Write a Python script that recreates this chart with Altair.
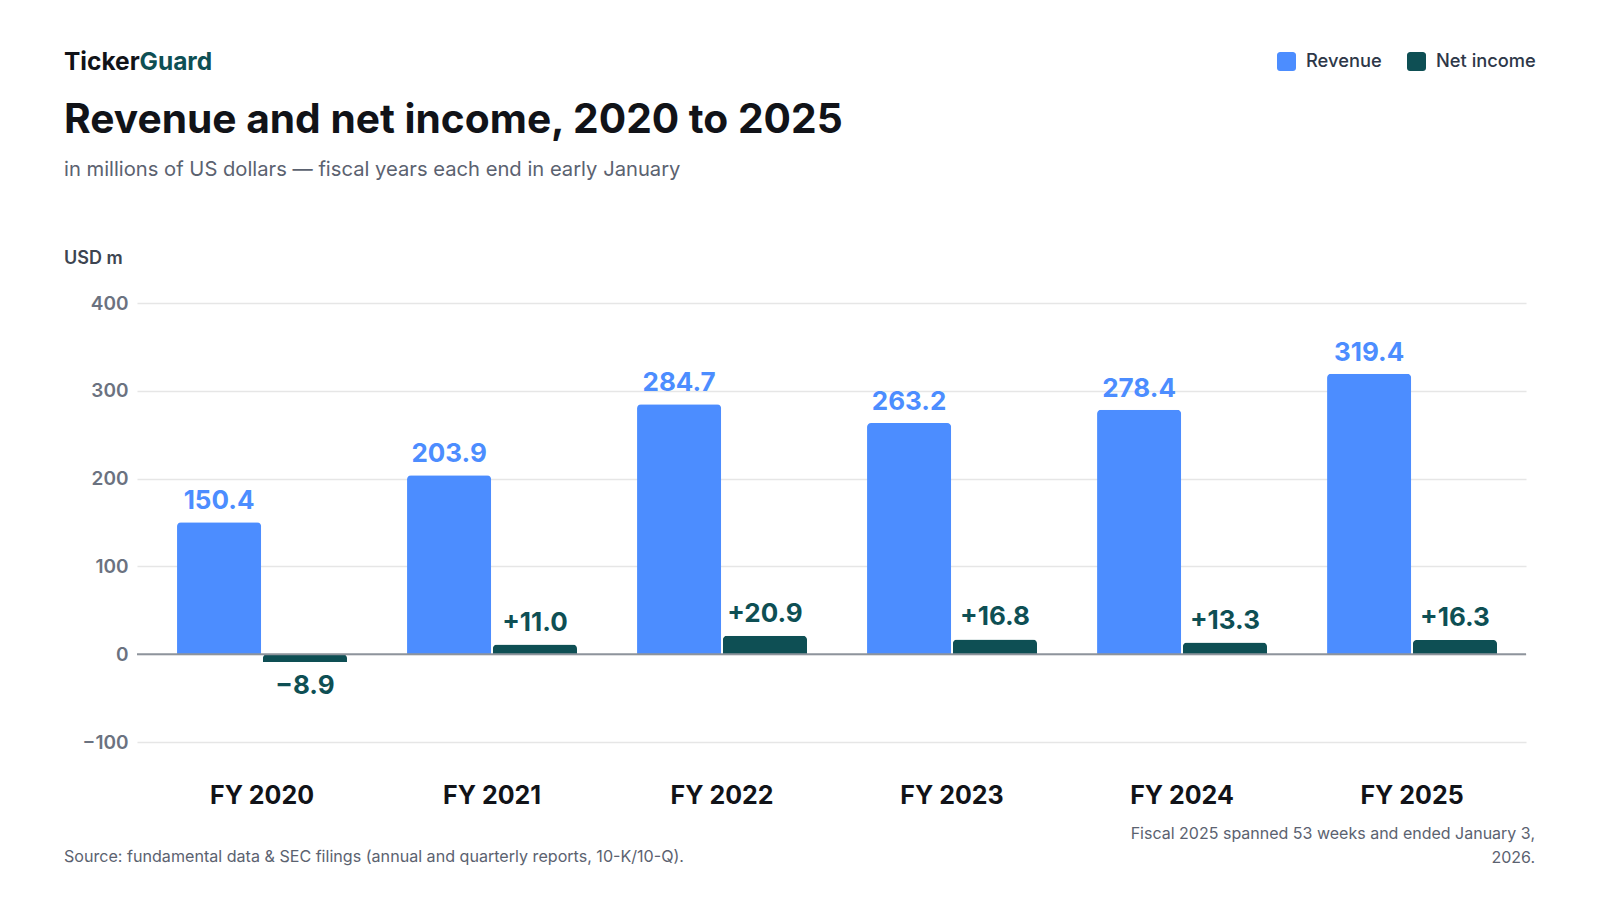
import altair as alt
import pandas as pd

years = ["FY 2020", "FY 2021", "FY 2022", "FY 2023", "FY 2024", "FY 2025"]
revenue = [150.4, 203.9, 284.7, 263.2, 278.4, 319.4]
net_income = [-8.9, 11.0, 20.9, 16.8, 13.3, 16.3]
series = ["Revenue", "Net income"]
colors = ["#4C8DFF", "#0E4F54"]
y_ticks = [-100, 0, 100, 200, 300, 400]

rows = []
for i, y in enumerate(years):
    rows.append({"year": y, "series": "Revenue", "value": revenue[i]})
    rows.append({"year": y, "series": "Net income", "value": net_income[i]})
df = pd.DataFrame(rows)

FONT = "Inter"

x_enc = alt.X("year:N", sort=years, title=None,
              scale=alt.Scale(paddingInner=0.261, paddingOuter=0.15, align=0.58),
              axis=alt.Axis(labelFontSize=25, labelFontWeight="bold", labelColor="#111318",
                            labelPadding=41, ticks=False, domain=False, grid=False,
                            labelAngle=0, labelFont=FONT))
xo_enc = alt.XOffset("series:N", sort=series, scale=alt.Scale(domain=series, paddingInner=0.02, paddingOuter=0))
y_enc = alt.Y("value:Q", title=None,
              scale=alt.Scale(domain=[-100, 400], nice=False, zero=False),
              axis=alt.Axis(values=y_ticks, labelFontSize=19, labelFontWeight=600, labelColor="#6B7280",
                            labelPadding=9, ticks=False, domain=False, grid=True,
                            gridColor="#E6E6E6", gridWidth=1.5, labelFont=FONT))

rounded = "M-0.68,-1H0.68A0.32,0.32,0,0,1,1,-0.68V0.68A0.32,0.32,0,0,1,0.68,1H-0.68A0.32,0.32,0,0,1,-1,0.68V-0.68A0.32,0.32,0,0,1,-0.68,-1Z"

bars = alt.Chart(df).mark_bar(cornerRadiusEnd=4).encode(
    x=x_enc, xOffset=xo_enc, y=y_enc,
    color=alt.Color("series:N", sort=series,
                    scale=alt.Scale(domain=series, range=colors),
                    legend=alt.Legend(title=None, orient="none", legendX=1140, legendY=-251,
                                      direction="horizontal", symbolType=rounded, symbolSize=361,
                                      symbolStrokeWidth=0, symbolOpacity=1,
                                      labelFontSize=18.3, labelFont=FONT, labelFontWeight=500,
                                      labelColor="#2D3748", labelOffset=10, columnPadding=25,
                                      padding=0)),
)

zero = alt.Chart(pd.DataFrame({"z": [0]})).mark_rule(color="#8E949C", strokeWidth=2).encode(
    y=alt.Y("z:Q", scale=alt.Scale(domain=[-100, 400], nice=False, zero=False)),
    x=alt.value(0), x2=alt.value(1389),
)

rev_text = alt.Chart(df).transform_filter(alt.datum.series == "Revenue").mark_text(
    font=FONT, fontSize=26, fontWeight="bold", color="#4C8DFF", baseline="alphabetic", dy=-13
).encode(x=alt.X("year:N", sort=years), xOffset=xo_enc, y="value:Q",
         text=alt.Text("value:Q", format=".1f"))

net_pos = alt.Chart(df).transform_filter((alt.datum.series == "Net income") & (alt.datum.value >= 0)).mark_text(
    font=FONT, fontSize=26, fontWeight="bold", color="#0E4F54", baseline="alphabetic", dy=-14
).encode(x=alt.X("year:N", sort=years), xOffset=xo_enc, y="value:Q",
         text=alt.Text("value:Q", format="+.1f"))

net_neg = alt.Chart(df).transform_filter((alt.datum.series == "Net income") & (alt.datum.value < 0)).mark_text(
    font=FONT, fontSize=26, fontWeight="bold", color="#0E4F54", baseline="alphabetic", dy=32
).encode(x=alt.X("year:N", sort=years), xOffset=xo_enc, y="value:Q",
         text=alt.Text("value:Q", format="+.1f"))


def label(txt, x, y, size, color, weight="normal", align="left"):
    return alt.Chart(pd.DataFrame({"t": [txt]})).mark_text(
        font=FONT, fontSize=size, fontWeight=weight, color=color, align=align, baseline="alphabetic"
    ).encode(x=alt.value(x), y=alt.value(y), text="t:N")


brand1 = label("Ticker", -73, -233, 24.5, "#111318", "bold")
brand2 = label("Guard", 2.5, -233, 24.5, "#0E4F54", "bold")
title = label("Revenue and net income, 2020 to 2025", -73, -170, 40.7, "#111318", "bold")
subtitle = label("in millions of US dollars \u2014 fiscal years each end in early January", -73, -127, 20.2, "#5B6270")
unit = label("USD m", -73, -39, 18, "#3D4551", 600)
source = label("Source: fundamental data & SEC filings (annual and quarterly reports, 10-K/10-Q).", -73, 559, 16.1, "#5B6270")
note1 = label("Fiscal 2025 spanned 53 weeks and ended January 3,", 1398, 536, 16, "#5B6270", align="right")
note2 = label("2026.", 1398, 560, 16, "#5B6270", align="right")

chart = alt.layer(
    bars, zero, rev_text, net_pos, net_neg,
    brand1, brand2, title, subtitle, unit, source, note1, note2
).properties(
    width=1389, height=439,
    padding={"left": 129, "top": 295, "right": 50, "bottom": 130},
    autosize=alt.AutoSizeParams(type="none"),
    background="white",
).configure_view(stroke=None)

chart.save("out.html", embed_options={"renderer": "svg", "actions": False})
